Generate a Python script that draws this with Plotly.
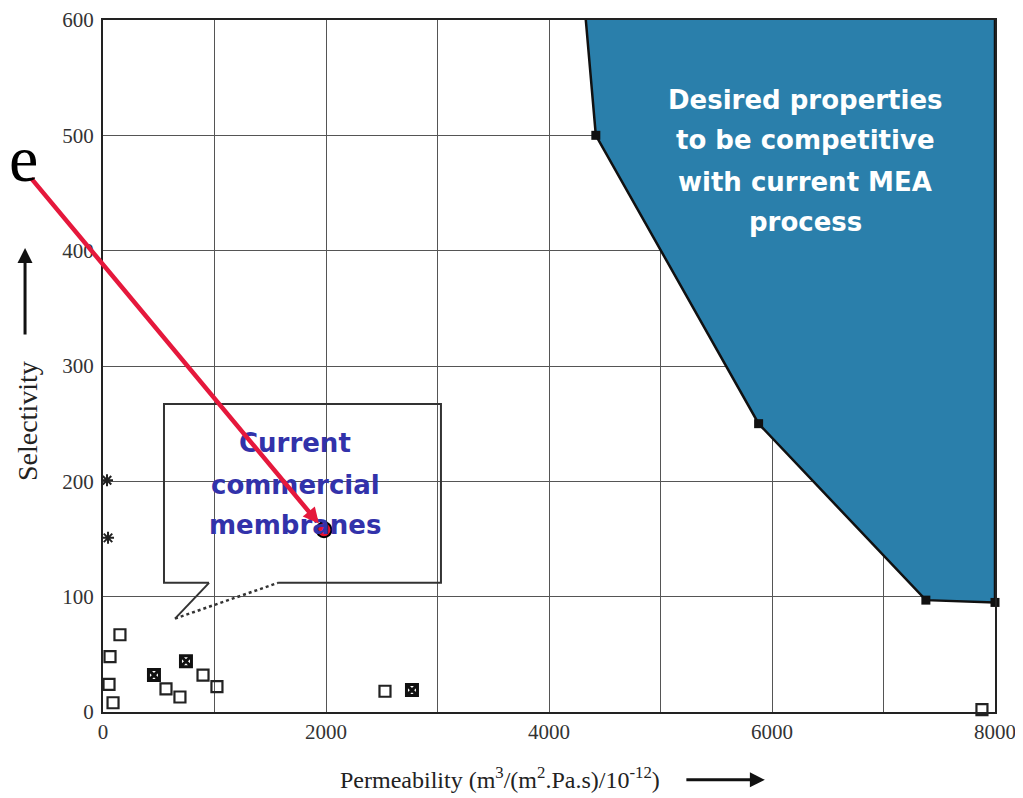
import plotly.graph_objects as go

# ---- data ----
x_ticks = [0, 1000, 2000, 3000, 4000, 5000, 6000, 7000, 8000]
x_ticktext = ["0", "", "2000", "", "4000", "", "6000", "", "8000"]
y_ticks = [0, 100, 200, 300, 400, 500, 600]
y_ticktext = ["0", "100", "200", "300", "400", "500", "600"]

open_x = [152, 63, 54, 90, 565, 690, 897, 1022, 2529, 7883]
open_y = [67, 48, 24, 8, 20, 13, 32, 22, 18, 2]
filled_x = [457, 744, 2771]
filled_y = [32, 44, 19]
star_x = [36, 45]
star_y = [201, 151]

target_x = [4330, 4420, 5880, 7380, 8000, 8000]
target_y = [600, 500, 250, 97, 95, 600]
corner_x = [4420, 5880, 7380, 8000]
corner_y = [500, 250, 97, 95]

highlight_x = [1982]
highlight_y = [158]

target_lines = ["Desired properties", "to be competitive", "with current MEA", "process"]
current_lines = ["Current", "commercial", "membranes"]

fig = go.Figure()

# desired region
fig.add_trace(go.Scatter(
    x=target_x, y=target_y, mode="lines", fill="toself",
    fillcolor="#2a7fab", line=dict(color="#111111", width=2.5),
    hoverinfo="skip", showlegend=False))
fig.add_trace(go.Scatter(
    x=corner_x, y=corner_y, mode="markers",
    marker=dict(symbol="square", size=9, color="#111111"),
    cliponaxis=False, showlegend=False))

# commercial membranes
fig.add_trace(go.Scatter(
    x=open_x, y=open_y, mode="markers",
    marker=dict(symbol="square-open", size=11, color="#222222", line=dict(width=2.2)),
    cliponaxis=False, showlegend=False))
fig.add_trace(go.Scatter(
    x=filled_x, y=filled_y, mode="markers",
    marker=dict(symbol="square-x-open", size=11, color="#111111", line=dict(width=3)),
    cliponaxis=False, showlegend=False))
fig.add_trace(go.Scatter(
    x=star_x, y=star_y, mode="markers",
    marker=dict(symbol="asterisk-open", size=10, color="#222222", line=dict(width=2)),
    cliponaxis=False, showlegend=False))

# red highlighted point
fig.add_trace(go.Scatter(
    x=highlight_x, y=highlight_y, mode="markers",
    marker=dict(symbol="circle", size=15, color="#e8112d", line=dict(color="#000000", width=2)),
    cliponaxis=False, showlegend=False))

# callout box (speech bubble)
box_line = dict(color="#333333", width=2)
fig.add_shape(type="path", xref="x", yref="y",
              path="M 951,112 L 547,112 L 547,267 L 3031,267 L 3031,112 L 1570,112",
              line=box_line)
fig.add_shape(type="line", xref="x", yref="y", x0=951, y0=112, x1=646, y1=81, line=box_line)
fig.add_shape(type="line", xref="x", yref="y", x0=646, y0=81, x1=1570, y1=112,
              line=dict(color="#333333", width=2.5, dash="dot"))

annotations = []
# white text in the region
for txt, yv in zip(target_lines, [530.6, 496, 459.5, 424.9]):
    annotations.append(dict(x=6296, y=yv, xref="x", yref="y", text="<b>" + txt + "</b>",
                            showarrow=False,
                            font=dict(family="DejaVu Sans", size=26, color="white"),
                            xanchor="center", yanchor="middle"))
# blue text in callout
for txt, yv in zip(current_lines, [233.2, 196.8, 162.1]):
    annotations.append(dict(x=1722, y=yv, xref="x", yref="y", text="<b>" + txt + "</b>",
                            showarrow=False,
                            font=dict(family="DejaVu Sans", size=26, color="#3232aa"),
                            xanchor="center", yanchor="middle"))

# red arrow
annotations.append(dict(x=highlight_x[0], y=highlight_y[0], xref="x", yref="y",
                        ax=-655, ay=464, axref="x", ayref="y", text="",
                        showarrow=True, arrowhead=2, arrowsize=0.7, arrowwidth=4.5,
                        arrowcolor="#e5183c", standoff=8))
# stray "e"
annotations.append(dict(x=-0.1065, y=0.80, xref="paper", yref="paper", text="e",
                        showarrow=False, xanchor="left", yanchor="middle", borderpad=0,
                        font=dict(family="Liberation Serif", size=66, color="#000000")))
# axis titles
annotations.append(dict(x=0.2635, y=-0.0954, xref="paper", yref="paper",
                        text="Permeability (m<sup>3</sup>/(m<sup>2</sup>.Pa.s)/10<sup>-12</sup>)",
                        showarrow=False, xanchor="left", yanchor="middle",
                        font=dict(family="Liberation Serif", size=24, color="#222222")))
annotations.append(dict(x=0.742, y=-0.098, xref="paper", yref="paper",
                        ax=-80, ay=0, text="",
                        showarrow=True, arrowhead=2, arrowsize=1, arrowwidth=3,
                        arrowcolor="#111111"))
annotations.append(dict(x=-0.0852, y=0.4205, xref="paper", yref="paper",
                        text="Selectivity", textangle=-90,
                        showarrow=False, xanchor="center", yanchor="middle",
                        font=dict(family="Liberation Serif", size=28, color="#222222")))
annotations.append(dict(x=-0.0874, y=0.6705, xref="paper", yref="paper",
                        ax=0, ay=88, text="",
                        showarrow=True, arrowhead=2, arrowsize=1, arrowwidth=3,
                        arrowcolor="#111111"))

axis_common = dict(showgrid=True, gridcolor="#555555", gridwidth=1,
                   showline=True, linecolor="#222222", linewidth=2, mirror=True,
                   ticks="",
                   tickfont=dict(family="Liberation Serif", size=21, color="#333333"),
                   zeroline=False, fixedrange=True, automargin=False)

# page body has an 8px margin: figure is sized/offset so the plot area sits at 103..995 x 20..712
fig.update_layout(
    width=1015, height=790, autosize=False,
    margin=dict(l=95, r=28, t=12, b=86),
    paper_bgcolor="white", plot_bgcolor="white",
    xaxis=dict(range=[0, 8000], tickvals=x_ticks, ticktext=x_ticktext, **axis_common),
    yaxis=dict(range=[0, 600], tickvals=y_ticks, ticktext=y_ticktext,
               ticklabelstandoff=3, **axis_common),
    annotations=annotations,
    showlegend=False,
)

fig.write_html("out.html")
